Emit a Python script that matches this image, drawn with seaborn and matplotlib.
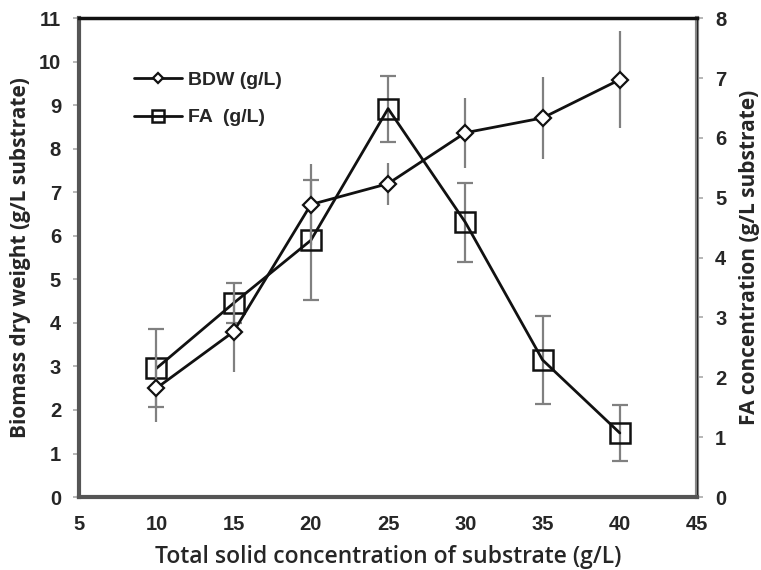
import matplotlib
matplotlib.use('Agg')
from matplotlib import pyplot as plt
import seaborn as sns

# substrate concentration (g/L)
solids = [10, 15, 20, 25, 30, 35, 40]

# biomass dry weight (left axis) and its error
bdw = [2.5, 3.8, 6.72, 7.2, 8.37, 8.71, 9.59]
bdw_err = [0.78, 0.92, 0.92, 0.48, 0.8, 0.94, 1.12]

# FA concentration (right axis) and its error
fa = [2.15, 3.24, 4.29, 6.49, 4.59, 2.29, 1.07]
fa_err = [0.65, 0.33, 1.0, 0.55, 0.66, 0.73, 0.46]

x_ticks = [5, 10, 15, 20, 25, 30, 35, 40, 45]
left_ticks = list(range(0, 12))
right_ticks = list(range(0, 9))

sns.set_style('white')
plt.rcParams['font.family'] = ['Liberation Sans', 'DejaVu Sans']
tick_font = ['Liberation Sans Narrow', 'Liberation Sans', 'DejaVu Sans']
label_font = ['Open Sans', 'DejaVu Sans']

fig, ax = plt.subplots(figsize=(7.61, 5.70), dpi=100)
fig.subplots_adjust(left=0.104, right=0.916, top=0.968, bottom=0.128)
ax2 = ax.twinx()

err_col = '#808080'
ax.errorbar(solids, bdw, yerr=bdw_err, fmt='none', ecolor=err_col, elinewidth=1.6, capsize=0, zorder=1)
ax2.errorbar(solids, fa, yerr=fa_err, fmt='none', ecolor=err_col, elinewidth=1.6, capsize=6, capthick=1.6, zorder=1)

sns.lineplot(x=solids, y=bdw, ax=ax, color='#111111', linewidth=2, marker='D', markersize=8,
             markerfacecolor='white', markeredgecolor='#111111', markeredgewidth=1.6,
             label='BDW (g/L)', legend=False, zorder=3)
sns.lineplot(x=solids, y=fa, ax=ax2, color='#111111', linewidth=2, marker='s', markersize=15,
             markerfacecolor='none', markeredgecolor='#111111', markeredgewidth=1.8,
             label='FA  (g/L)', legend=False, zorder=3)

ax.set_xlim(5, 45)
ax.set_ylim(0, 11)
ax2.set_ylim(0, 8)
ax.set_xticks(x_ticks)
ax.set_yticks(left_ticks)
ax2.set_yticks(right_ticks)

for a in (ax, ax2):
    a.tick_params(axis='both', which='major', direction='out', length=4, width=1.2,
                  color='#aaaaaa', labelsize=14.5, pad=9)
    for lab in a.get_xticklabels() + a.get_yticklabels():
        lab.set_fontweight('bold')
        lab.set_family(tick_font)

for side in ['left', 'bottom']:
    ax.spines[side].set_color('#555555')
    ax.spines[side].set_linewidth(3)
ax.spines['top'].set_color('#111111')
ax.spines['top'].set_linewidth(2.5)
ax2.spines['right'].set_color('#888888')
ax2.spines['right'].set_linewidth(3)
ax2.spines['top'].set_visible(False)

ax.set_xlabel('Total solid concentration of substrate (g/L)', fontsize=16.5,
              family=label_font, fontweight='semibold', labelpad=8)
ax.set_ylabel('Biomass dry weight (g/L substrate)', fontsize=15,
              family=label_font, fontweight='bold', labelpad=6)
ax2.set_ylabel('FA concentration (g/L substrate)', fontsize=15,
               family=label_font, fontweight='bold', labelpad=9)

h1, l1 = ax.get_legend_handles_labels()
h2, l2 = ax2.get_legend_handles_labels()
leg = ax.legend(h1 + h2, l1 + l2, loc='upper left', bbox_to_anchor=(0.06, 0.925),
                frameon=False, fontsize=14, handlelength=2.5, labelspacing=1.0,
                handletextpad=0.3, markerscale=0.6)
for t in leg.get_texts():
    t.set_fontweight('bold')

ax.set_zorder(ax2.get_zorder() + 1)
ax.patch.set_visible(False)

plt.savefig('out.png', dpi=100)
